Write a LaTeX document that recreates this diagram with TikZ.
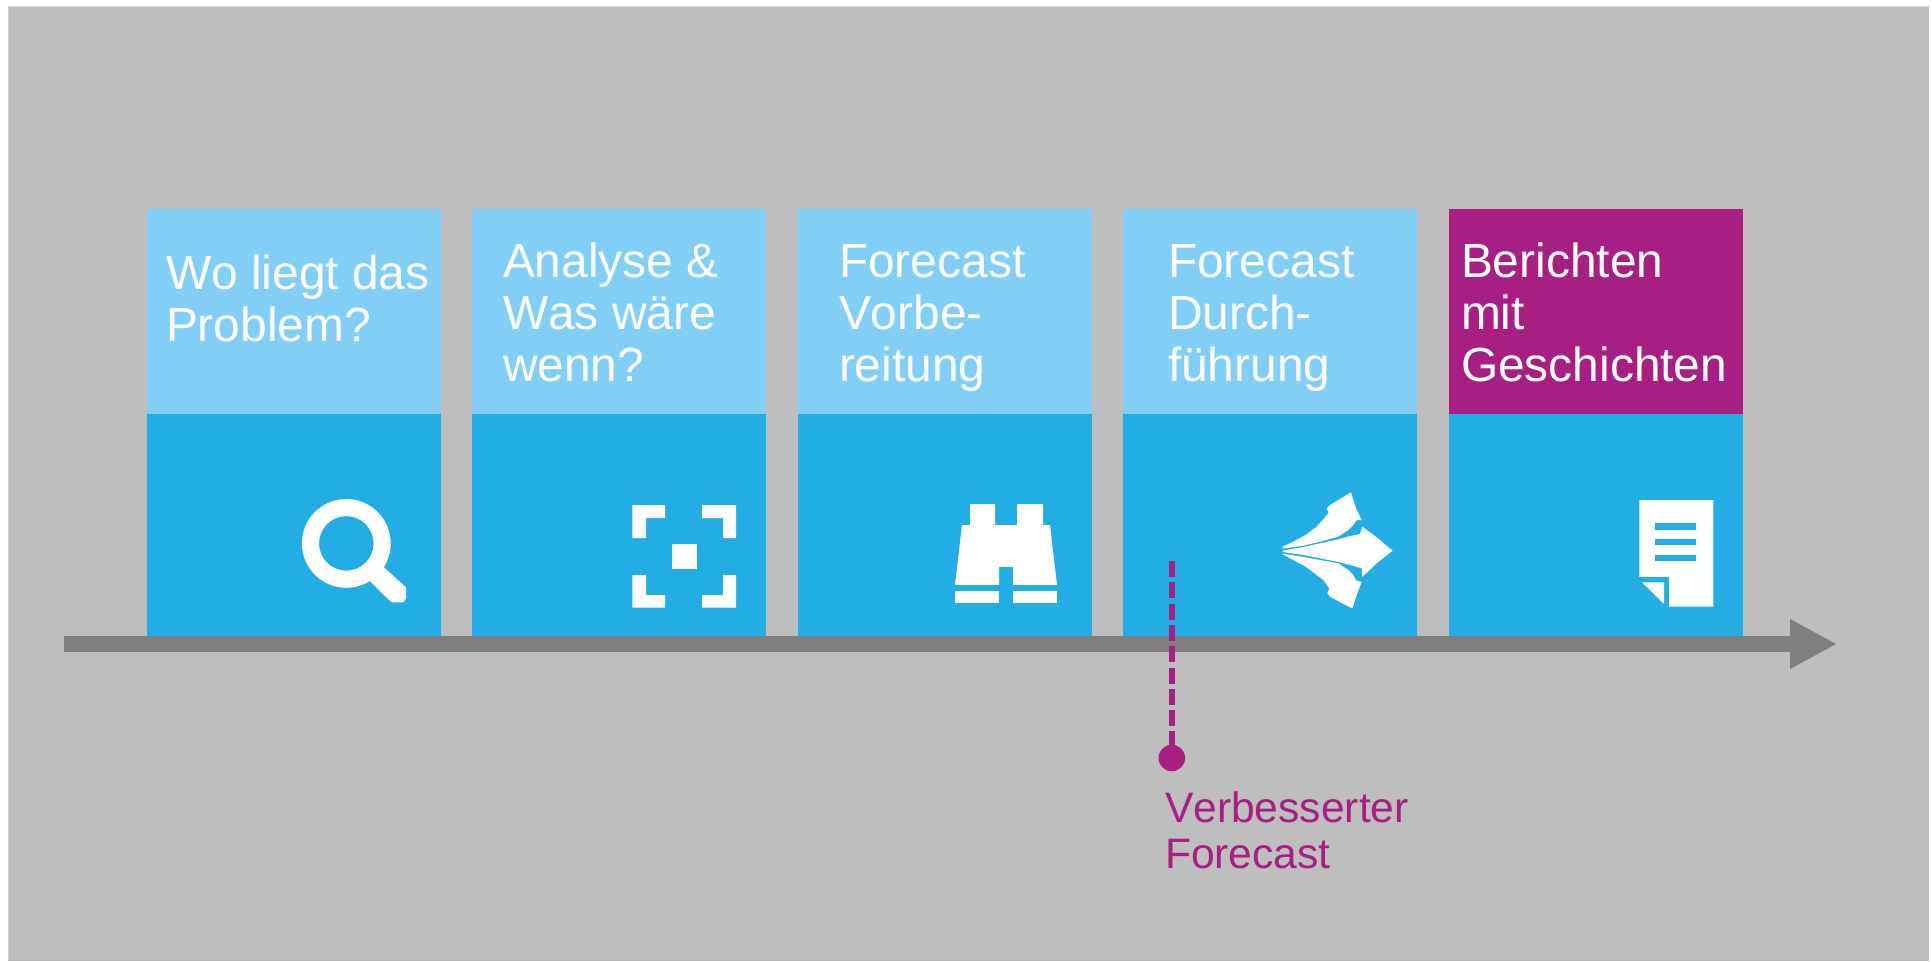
\documentclass[tikz,border=0pt]{standalone}
\usepackage{fontspec}
\setmainfont[Kerning=Off]{Liberation Sans}
\usetikzlibrary{arrows.meta}
\definecolor{bg}{HTML}{BEBEBE}
\definecolor{bgedge}{HTML}{D2D2D2}
\definecolor{lightblue}{HTML}{81CFF6}
\definecolor{midblue}{HTML}{23ADE5}
\definecolor{magenta}{HTML}{A81F83}
\definecolor{axisgray}{HTML}{7F7F7F}
\tikzset{
  x=1pt,y=-1pt,
  panel/.style={rectangle,inner sep=0pt,outer sep=0pt,minimum width=294pt,anchor=north west},
  headbox/.style={panel,fill=lightblue,minimum height=206pt},
  bodybox/.style={panel,fill=midblue,minimum height=222pt},
  headtext/.style={anchor=base west,inner sep=0pt,outer sep=0pt,text=white,align=left,font=\fontsize{47.9}{52}\selectfont},
  notetext/.style={anchor=base west,inner sep=0pt,outer sep=0pt,text=magenta,align=left,font=\fontsize{42.6}{46}\selectfont},
  icon/.style={fill=white,draw=none},
  iconcut/.style={fill=midblue,draw=none},
}
\begin{document}
\begin{tikzpicture}
\useasboundingbox (0,0) rectangle (1932,961);
\fill[white] (0,0) rectangle (1932,961);
\fill[bgedge] (8,6) rectangle (1929,961);
\fill[bg] (9,7) rectangle (1929,961);
% panels
\node[headbox] (h1) at (147,208.5) {};
\node[bodybox] (b1) at (147,414) {};
\node[headbox] (h2) at (472,208.5) {};
\node[bodybox] (b2) at (472,414) {};
\node[headbox] (h3) at (798,208.5) {};
\node[bodybox] (b3) at (798,414) {};
\node[headbox] (h4) at (1123,208.5) {};
\node[bodybox] (b4) at (1123,414) {};
\node[headbox,fill=magenta] (h5) at (1449,208.5) {};
\node[bodybox] (b5) at (1449,414) {};
% head texts
\node[headtext] (t1a) at (166,289) {Wo liegt das};
\node[headtext] (t1b) at (166,341) {Problem?};
\node[headtext] (t2a) at (503,277) {Analyse \&};
\node[headtext] (t2b) at (503,329) {Was wäre};
\node[headtext] (t2c) at (503,381.5) {wenn?};
\node[headtext] (t3a) at (839,277) {Forecast};
\node[headtext] (t3b) at (839,329) {Vorbe-};
\node[headtext] (t3c) at (839,381.5) {reitung};
\node[headtext] (t4a) at (1168,277) {Forecast};
\node[headtext] (t4b) at (1168,329) {Durch-};
\node[headtext] (t4c) at (1168,381.5) {führung};
\node[headtext] (t5a) at (1461,277) {Berichten};
\node[headtext] (t5b) at (1461,329) {mit};
\node[headtext] (t5c) at (1461,381.5) {Geschichten};
% axis
\coordinate (axisstart) at (64,644);
\coordinate (axisend) at (1837,644);
\draw[axisgray,line width=16pt,-{Triangle[length=47pt,width=46.5pt]}] (axisstart) -- (axisend);
% milestone
\coordinate (dashstart) at (1171.8,561);
\node[circle,fill=magenta,inner sep=0pt,outer sep=0pt,minimum size=26.6pt] (dot) at (1171.8,758) {};
\draw[magenta,line width=5.6pt,dash pattern=on 16pt off 5.3pt] (dashstart) -- (dot.center);
\node[notetext] (n1) at (1165,822) {Verbesserter};
\node[notetext] (n2) at (1165,868) {Forecast};
% magnifier
\fill[icon,even odd rule] (346.3,543.4) circle[radius=44.4] (346.3,543.4) circle[radius=27.3];
\fill[icon] (381,564) -- (385,568.3) -- (406,587.3) -- (406,598.3) -- (403.3,602.3) -- (391.7,602.3) -- (385,596) -- (370.7,581.7) -- (367,578) -- cycle;
% focus
\fill[icon] (632.3,505) -- (665,505) -- (665,518) -- (646,518) -- (646,538) -- (632.3,538) -- cycle;
\fill[icon] (736,505) -- (702,505) -- (702,518) -- (723,518) -- (723,538) -- (736,538) -- cycle;
\fill[icon] (632.3,607.7) -- (665,607.7) -- (665,595) -- (646,595) -- (646,575) -- (632.3,575) -- cycle;
\fill[icon] (736,607.7) -- (702,607.7) -- (702,595) -- (723,595) -- (723,575) -- (736,575) -- cycle;
\fill[icon] (672,544) rectangle (697,569);
% binoculars
\begin{scope}[shift={(920,470)},x=0.3333pt,y=-0.3333pt]
\fill[icon] (150,102) -- (225,102) -- (225,165) -- (291,165) -- (291,102) -- (369,102) -- (369,165) -- (390,165) -- (411,345) -- (279,345) -- (279,291) -- (237,291) -- (237,345) -- (105,345) -- (126,165) -- (150,165) -- cycle;
\fill[icon] (105,363) rectangle (237,398);
\fill[icon] (279,363) rectangle (411,398);
\end{scope}
% split arrows
\begin{scope}[shift={(1270,480)},x=0.3333pt,y=-0.3333pt]
\fill[icon] (38,200) -- (70,185) -- (110,163) -- (140,140) -- (160,118) -- (176,98) -- (170,85) -- (180,75) -- (243,37) -- (258,85) -- (275,120) -- (260,120) -- (250,135) -- (235,150) -- (205,170) -- (150,185) -- (100,197) -- (38,206) -- cycle;
\fill[icon] (38,212) -- (100,201) -- (205,178) -- (240,168) -- (270,162) -- (277,140) -- (320,172) -- (368,212) -- (320,250) -- (277,291) -- (275,265) -- (240,255) -- (205,246) -- (100,225) -- (38,216) -- cycle;
\fill[icon] (38,221) -- (100,231) -- (205,250) -- (235,270) -- (250,285) -- (260,303) -- (275,305) -- (262,340) -- (247,385) -- (220,372) -- (180,350) -- (172,340) -- (178,325) -- (160,300) -- (140,285) -- (110,262) -- (70,240) -- (38,223) -- cycle;
\end{scope}
% document
\begin{scope}[shift={(1600,470)},x=0.3333pt,y=-0.3333pt]
\fill[icon] (118,90) -- (340,90) -- (340,410) -- (207,410) -- (207,321) -- (118,321) -- cycle;
\fill[iconcut] (165,159) rectangle (288,180);
\fill[iconcut] (165,207) rectangle (288,225);
\fill[iconcut] (165,255) rectangle (288,273);
\fill[icon] (126,337) -- (192,337) -- (192,402) -- cycle;
\end{scope}
\end{tikzpicture}
\end{document}
